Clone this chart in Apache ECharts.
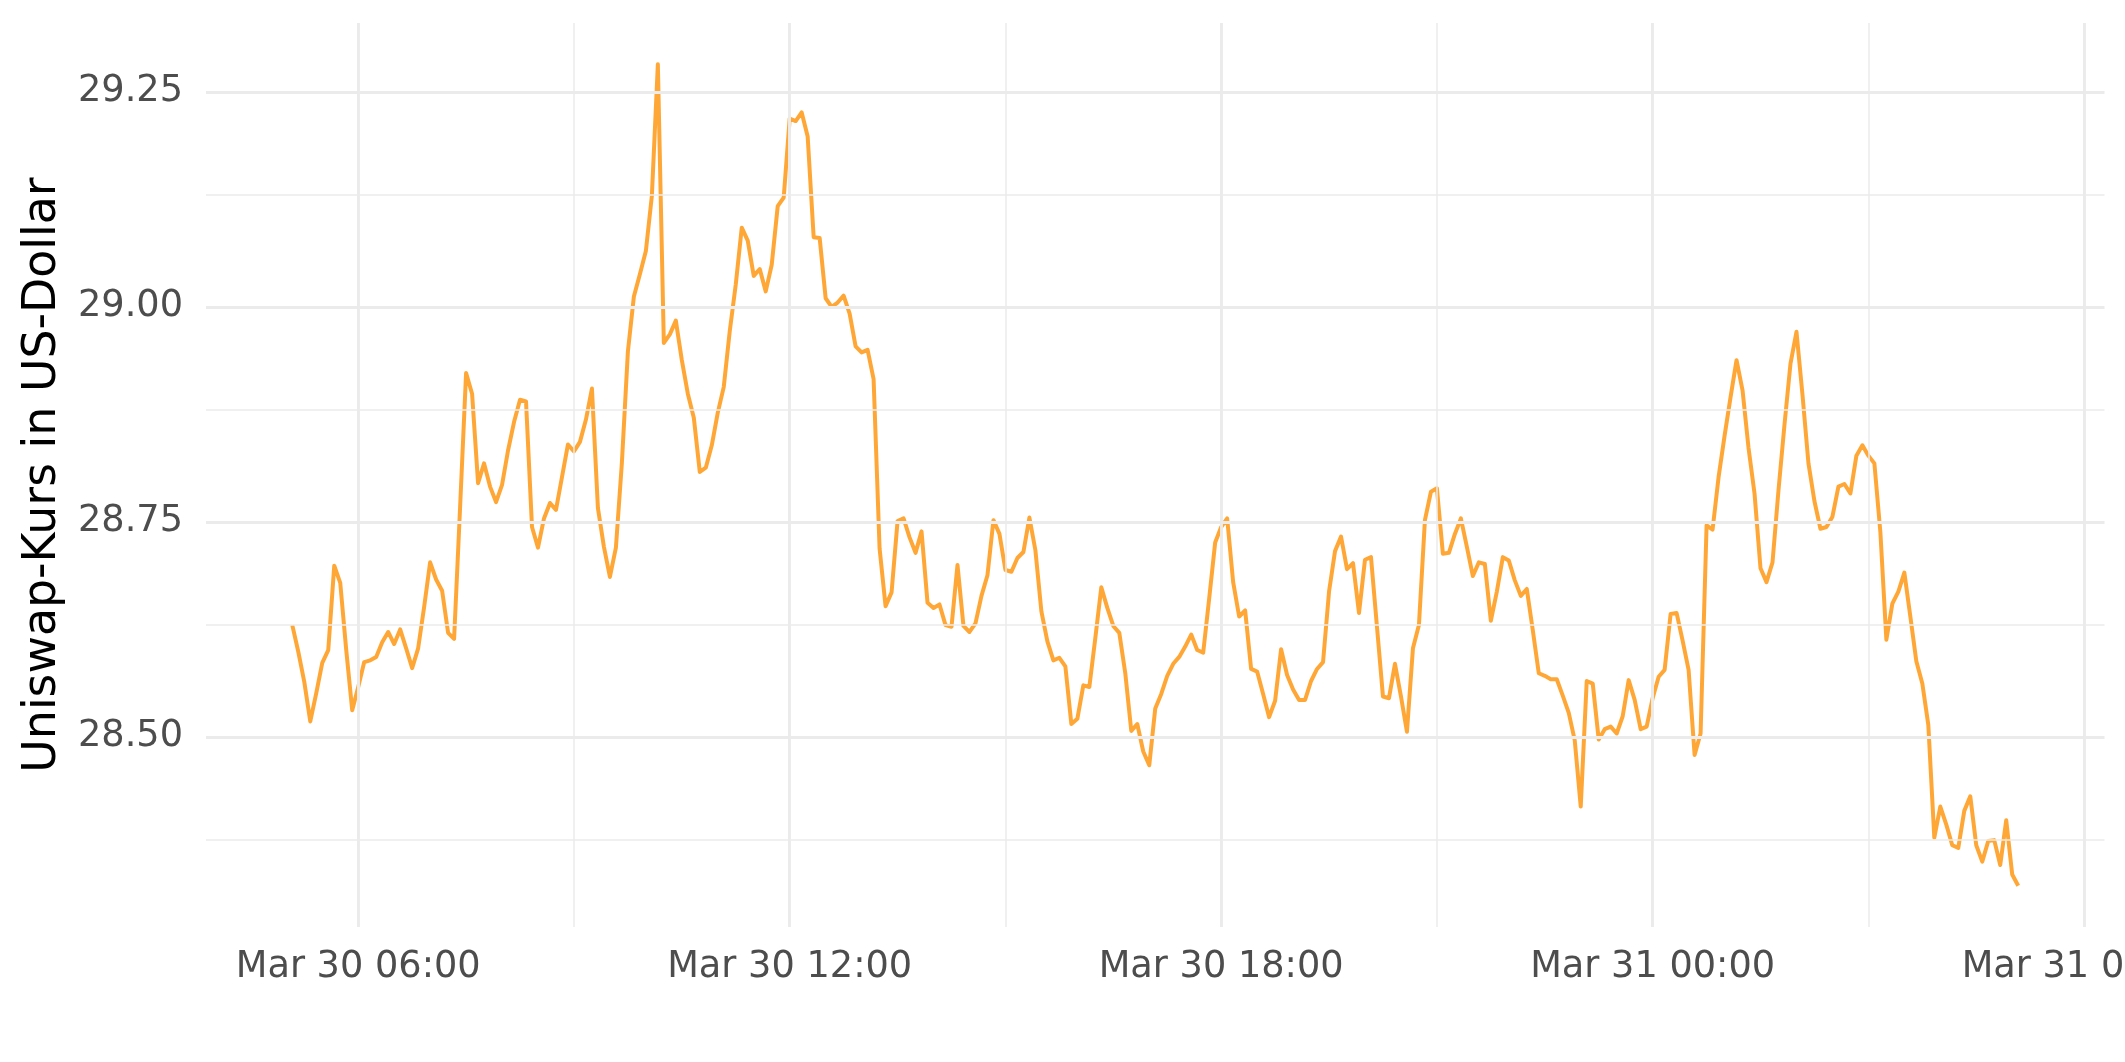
<!DOCTYPE html>
<html>
<head>
<meta charset="utf-8">
<script src="https://cdn.jsdelivr.net/npm/echarts@6/dist/echarts.min.js"></script>
<style>
html,body{margin:0;padding:0;background:#fff;}
#chart{width:2125px;height:1062px;}
</style>
</head>
<body>
<div id="chart"></div>
<script>
// Uniswap price, 5-minute steps, starting Mar 30 05:05 (hours counted from Mar 30 00:00)
const startHour = 5 + 5 / 60;
const stepMinutes = 5;

// Mar 30 05:05 - 09:00
const pricesA = [
  28.630, 28.599, 28.564, 28.518, 28.551, 28.586, 28.601, 28.699, 28.679, 28.601,
  28.531, 28.558, 28.587, 28.589, 28.593, 28.610, 28.622, 28.608, 28.625, 28.603,
  28.580, 28.603, 28.651, 28.703, 28.683, 28.670, 28.621, 28.614, 28.767, 28.923,
  28.899, 28.795, 28.818, 28.791, 28.773, 28.793, 28.833, 28.866, 28.892, 28.890,
  28.744, 28.720, 28.754, 28.772, 28.764, 28.802, 28.840, 28.832
];
// Mar 30 09:05 - 13:00
const pricesB = [
  28.843, 28.869, 28.905, 28.766, 28.721, 28.686, 28.720, 28.819, 28.948, 29.012,
  29.038, 29.065, 29.129, 29.282, 28.958, 28.968, 28.984, 28.938, 28.899, 28.871,
  28.808, 28.813, 28.839, 28.877, 28.907, 28.972, 29.026, 29.092, 29.077, 29.036,
  29.044, 29.018, 29.049, 29.117, 29.127, 29.219, 29.216, 29.226, 29.198, 29.081,
  29.080, 29.010, 29.000, 29.005, 29.013, 28.992, 28.954, 28.947
];
// Mar 30 13:05 - 17:00
const pricesC = [
  28.950, 28.916, 28.719, 28.652, 28.668, 28.751, 28.754, 28.732, 28.714, 28.739,
  28.656, 28.650, 28.654, 28.630, 28.628, 28.700, 28.629, 28.622, 28.632, 28.664,
  28.688, 28.752, 28.736, 28.694, 28.692, 28.708, 28.715, 28.755, 28.717, 28.646,
  28.611, 28.589, 28.592, 28.582, 28.515, 28.521, 28.560, 28.558, 28.615, 28.674,
  28.650, 28.629, 28.621, 28.574, 28.507, 28.515, 28.483, 28.467
];
// Mar 30 17:05 - 21:00
const pricesD = [
  28.533, 28.550, 28.571, 28.585, 28.593, 28.605, 28.619, 28.601, 28.598, 28.661,
  28.726, 28.744, 28.754, 28.680, 28.640, 28.647, 28.579, 28.576, 28.550, 28.523,
  28.542, 28.602, 28.572, 28.555, 28.543, 28.543, 28.565, 28.579, 28.587, 28.669,
  28.716, 28.733, 28.695, 28.702, 28.644, 28.706, 28.709, 28.628, 28.547, 28.545,
  28.585, 28.547, 28.506, 28.603, 28.630, 28.752, 28.785, 28.789
];
// Mar 30 21:05 - Mar 31 01:00
const pricesE = [
  28.713, 28.714, 28.736, 28.754, 28.721, 28.687, 28.703, 28.701, 28.635, 28.669,
  28.709, 28.705, 28.682, 28.664, 28.672, 28.624, 28.574, 28.571, 28.567, 28.567,
  28.548, 28.528, 28.496, 28.419, 28.565, 28.562, 28.497, 28.509, 28.512, 28.504,
  28.524, 28.566, 28.543, 28.509, 28.512, 28.545, 28.570, 28.578, 28.643, 28.644,
  28.612, 28.578, 28.479, 28.504, 28.746, 28.741, 28.802, 28.850
];
// Mar 31 01:05 - 05:05
const pricesF = [
  28.895, 28.938, 28.903, 28.836, 28.783, 28.696, 28.680, 28.703, 28.787, 28.863,
  28.934, 28.971, 28.898, 28.818, 28.774, 28.742, 28.744, 28.756, 28.791, 28.794,
  28.783, 28.827, 28.839, 28.827, 28.818, 28.738, 28.613, 28.655, 28.669, 28.691,
  28.640, 28.588, 28.562, 28.514, 28.383, 28.419, 28.398, 28.374, 28.371, 28.414,
  28.431, 28.374, 28.355, 28.379, 28.380, 28.351, 28.403, 28.340, 28.327
];

const xTickHours = [6, 12, 18, 24, 30];
const xTickLabels = ['Mar 30 06:00', 'Mar 30 12:00', 'Mar 30 18:00', 'Mar 31 00:00', 'Mar 31 06:00'];
const xMinorHours = [9, 15, 21, 27];
const yTicks = [28.5, 28.75, 29.0, 29.25];
const yMinorTicks = [28.375, 28.625, 28.875, 29.125];

const xMin = 3.8833, xMax = 30.2833;
const yMin = 28.279, yMax = 29.330;

const prices = [].concat(pricesA, pricesB, pricesC, pricesD, pricesE, pricesF);
const seriesData = prices.map((v, i) => [startHour + i * stepMinutes / 60, v]);

const labelMap = {};
xTickHours.forEach((h, k) => { labelMap[h] = xTickLabels[k]; });

const gridColor = '#ebebeb';
const majorW = 2.9, minorW = 1.5;
const gridLines = [];
yMinorTicks.forEach(v => gridLines.push({ yAxis: v, lineStyle: { width: minorW } }));
xMinorHours.forEach(v => gridLines.push({ xAxis: v, lineStyle: { width: minorW } }));
yTicks.forEach(v => gridLines.push({ yAxis: v, lineStyle: { width: majorW } }));
xTickHours.forEach(v => gridLines.push({ xAxis: v, lineStyle: { width: majorW } }));

const font = 'DejaVu Sans';
const chart = echarts.init(document.getElementById('chart'), null, { renderer: 'canvas' });
chart.setOption({
  animation: false,
  backgroundColor: '#ffffff',
  grid: { left: 206, right: 20.5, top: 23, bottom: 135, containLabel: false, outerBoundsMode: 'none' },
  xAxis: {
    type: 'value', min: xMin, max: xMax,
    axisLine: { show: false }, axisTick: { show: false },
    splitLine: { show: false },
    axisLabel: {
      customValues: xTickHours,
      formatter: v => labelMap[Math.round(v)] || '',
      color: '#4d4d4d', fontFamily: font, fontSize: 36.7, margin: 22,
      hideOverlap: false
    }
  },
  yAxis: {
    type: 'value', min: yMin, max: yMax,
    axisLine: { show: false }, axisTick: { show: false },
    splitLine: { show: false },
    axisLabel: {
      customValues: yTicks,
      formatter: v => v.toFixed(2),
      color: '#4d4d4d', fontFamily: font, fontSize: 36.7, margin: 23
    },
    name: 'Uniswap-Kurs in US-Dollar',
    nameLocation: 'middle', nameRotate: 90, nameGap: 140,
    nameTextStyle: { color: '#000000', fontFamily: font, fontSize: 45.8 }
  },
  series: [
    {
      type: 'line', data: [], silent: true, z: 1,
      markLine: {
        silent: true, symbol: ['none', 'none'], animation: false,
        label: { show: false },
        lineStyle: { type: 'solid', color: gridColor },
        emphasis: { disabled: true },
        data: gridLines
      }
    },
    {
      type: 'line', data: seriesData, showSymbol: false, z: 3,
      lineStyle: { color: '#ffa736', width: 4, join: 'round' },
      itemStyle: { color: '#ffa736' }
    }
  ]
});
</script>
</body>
</html>
